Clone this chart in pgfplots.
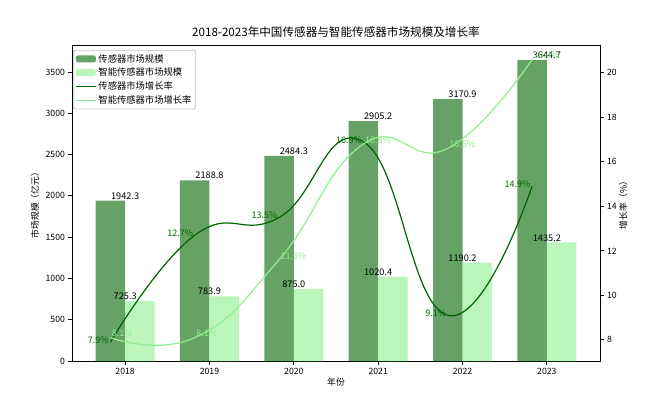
\documentclass[border=0pt]{standalone}
\usepackage{fontspec}
\setmainfont{Noto Sans CJK SC}
\usepackage{pgfplots}
\pgfplotsset{compat=1.18}
\definecolor{darkbar}{RGB}{102,162,102}
\definecolor{lightbar}{RGB}{188,245,188}
\definecolor{darkline}{RGB}{0,100,0}
\definecolor{lightline}{RGB}{144,238,144}
\begin{document}
\begin{tikzpicture}[font=\fontsize{8.5}{10}\selectfont]
\begin{axis}[
  at={(0,0)}, anchor=south west,
  scale only axis, width=528pt, height=316pt,
  xmin=-0.63, xmax=5.63, ymin=0, ymax=3827,
  xtick={0,1,2,3,4,5}, xticklabels={2018,2019,2020,2021,2022,2023},
  ytick={0,500,1000,1500,2000,2500,3000,3500},
  tick align=outside, xtick pos=bottom, ytick pos=left,
  major tick length=3.5pt,
  every tick/.style={black, line width=0.8pt},
  axis line style={line width=0.8pt},
  /pgf/number format/assume math mode=true,
  /pgf/number format/1000 sep={},
  tick label style={font=\fontsize{8.7}{10}\selectfont},
  title={2018-2023年中国传感器与智能传感器市场规模及增长率},
  title style={at={(axis description cs:0.5,1.023)}, anchor=center, font=\fontsize{11.6}{13}\selectfont},
  xlabel={年份},
  xlabel style={at={(axis description cs:0.5,-0.066)}, anchor=center, font=\fontsize{8.8}{10}\selectfont},
  ylabel={市场规模（亿元）},
  ylabel style={at={(axis description cs:-0.070,0.5)}, anchor=center, font=\fontsize{8.8}{10}\selectfont},
  nodes near coords, point meta=explicit symbolic,
  every node near coord/.append style={font=\fontsize{9.2}{10}\selectfont, black, anchor=south, inner sep=1pt},
]
\addplot[ybar, bar width=0.35, bar shift=-0.175, fill=darkbar, draw=none] coordinates {
  (0,1942.3)[1942.3] (1,2188.8)[2188.8] (2,2484.3)[2484.3] (3,2905.2)[2905.2] (4,3170.9)[3170.9] (5,3644.7)[3644.7]};
\addplot[ybar, bar width=0.35, bar shift=0.175, fill=lightbar, draw=none] coordinates {
  (0,725.3)[725.3] (1,783.9)[783.9] (2,875.0)[875.0] (3,1020.4)[1020.4] (4,1190.2)[1190.2] (5,1435.2)[1435.2]};
\end{axis}
\begin{axis}[
  at={(0,0)}, anchor=south west,
  scale only axis, width=528pt, height=316pt,
  xmin=-0.63, xmax=5.63, ymin=7.05, ymax=21.25,
  hide x axis, axis y line*=right,
  ytick={8,10,12,14,16,18,20},
  tick align=outside, major tick length=3.5pt,
  every tick/.style={black, line width=0.8pt},
  axis line style={line width=0.8pt},
  /pgf/number format/assume math mode=true,
  tick label style={font=\fontsize{8.7}{10}\selectfont},
  ylabel={增长率（\%）},
  ylabel style={at={(axis description cs:1.044,0.5)}, anchor=center, font=\fontsize{8.8}{10}\selectfont},
  legend cell align=left,
  legend style={at={(axis description cs:0.002,0.984)}, anchor=north west, draw=black!45, rounded corners=2pt,
    font=\fontsize{9.3}{10.5}\selectfont, inner sep=2pt, row sep=0.4pt},
]
\addlegendimage{fill=darkbar, draw=none, legend image code/.code={\fill[darkbar] (0pt,-3.5pt) rectangle (20pt,3.5pt);}}
\addlegendimage{fill=lightbar, draw=none, legend image code/.code={\fill[lightbar] (0pt,-3.5pt) rectangle (20pt,3.5pt);}}
\addplot[darkline, line width=1.2pt, smooth, tension=0.8, no marks,
  legend image code/.code={\draw[darkline, line width=1.2pt] (0pt,0pt) -- (20pt,0pt);},
  nodes near coords, point meta=explicit symbolic,
  every node near coord/.style={font=\fontsize{9}{10}\selectfont, text=darkline, anchor=east, yshift=2pt, inner sep=1pt}]
  coordinates {(-0.175,7.9)[7.9\%] (0.825,12.7)[12.7\%] (1.825,13.5)[13.5\%] (2.825,16.9)[16.9\%] (3.825,9.1)[9.1\%] (4.825,14.9)[14.9\%]};
\addplot[lightline, line width=1.2pt, smooth, tension=0.8, no marks,
  legend image code/.code={\draw[lightline, line width=1.2pt] (0pt,0pt) -- (20pt,0pt);},
  nodes near coords, point meta=explicit symbolic,
  every node near coord/.style={font=\fontsize{9}{10}\selectfont, text=lightline, anchor=west, yshift=4pt, inner sep=1pt}]
  coordinates {(-0.175,8.1)[8.1\%] (0.825,8.1)[8.1\%] (1.825,11.6)[11.6\%] (2.825,16.8)[16.8\%] (3.825,16.6)[16.6\%] (4.825,20.6)[20.6\%]};
\legend{传感器市场规模,智能传感器市场规模,传感器市场增长率,智能传感器市场增长率}
\end{axis}
\pgfresetboundingbox
\path[use as bounding box] (-72pt,-33pt) rectangle (588pt,361pt);
\end{tikzpicture}
\end{document}
